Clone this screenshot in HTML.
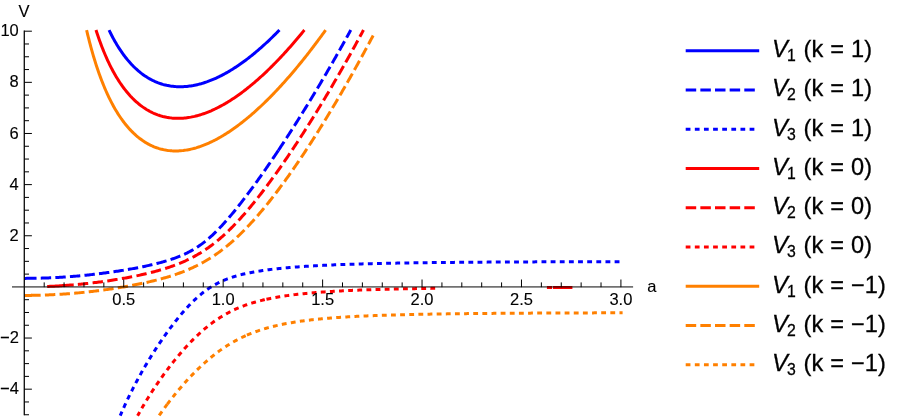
<!DOCTYPE html>
<html><head><meta charset="utf-8"><title>V(a)</title>
<style>
html,body{margin:0;padding:0;background:#fff;}
svg{display:block;}
text{font-family:"Liberation Sans",sans-serif;fill:#000;}
.t{font-size:16.5px;stroke:#000;stroke-width:0.12px;}
.l{font-size:23.6px;letter-spacing:0.15px;stroke:#000;stroke-width:0.28px;}
.s{font-size:15.8px;letter-spacing:0;}
.i{font-style:italic;font-size:23.8px;letter-spacing:0;}
</style></head><body>
<svg width="900" height="418" viewBox="0 0 900 418">
<rect width="900" height="418" fill="#fff"/>
<g fill="none" stroke-width="3.00" stroke-linecap="butt" stroke-linejoin="round">
<path d="M109.03,30.05 L109.71,31.45 L110.35,32.75 L110.99,34.02 L111.62,35.26 L112.26,36.49 L112.90,37.68 L113.53,38.86 L114.17,40.02 L114.81,41.15 L115.44,42.26 L116.08,43.35 L116.72,44.43 L117.35,45.48 L117.99,46.51 L118.84,47.85 L119.69,49.17 L120.54,50.45 L121.39,51.69 L122.24,52.91 L123.08,54.10 L123.93,55.25 L124.78,56.38 L125.63,57.48 L126.48,58.55 L127.33,59.59 L128.18,60.61 L129.03,61.60 L129.88,62.56 L130.73,63.50 L131.58,64.42 L132.42,65.31 L133.27,66.18 L134.34,67.23 L135.40,68.24 L136.46,69.22 L137.52,70.17 L138.58,71.09 L139.64,71.97 L140.70,72.82 L141.76,73.64 L142.83,74.43 L143.89,75.19 L144.95,75.92 L146.01,76.62 L147.07,77.30 L148.13,77.94 L149.19,78.57 L150.26,79.16 L151.32,79.73 L152.59,80.38 L153.86,80.99 L155.14,81.57 L156.41,82.11 L157.68,82.62 L158.96,83.10 L160.23,83.55 L161.51,83.96 L162.78,84.35 L164.05,84.70 L165.33,85.02 L166.60,85.32 L167.87,85.58 L169.15,85.82 L170.42,86.03 L171.69,86.21 L172.97,86.36 L174.24,86.49 L175.52,86.60 L176.79,86.67 L178.06,86.72 L179.34,86.75 L180.61,86.75 L181.88,86.73 L183.16,86.68 L184.43,86.61 L185.70,86.52 L186.98,86.41 L188.25,86.27 L189.53,86.11 L190.80,85.93 L192.07,85.72 L193.35,85.50 L194.62,85.25 L195.89,84.98 L197.17,84.69 L198.44,84.38 L199.71,84.05 L200.99,83.71 L202.26,83.34 L203.54,82.95 L204.81,82.54 L206.08,82.11 L207.36,81.67 L208.63,81.20 L209.90,80.72 L211.18,80.21 L212.45,79.69 L213.72,79.16 L215.00,78.60 L216.27,78.02 L217.54,77.43 L218.82,76.82 L220.09,76.20 L221.37,75.55 L222.64,74.89 L223.70,74.33 L224.76,73.76 L225.82,73.17 L226.88,72.57 L227.95,71.96 L229.01,71.34 L230.07,70.71 L231.13,70.07 L232.19,69.41 L233.25,68.75 L234.31,68.07 L235.38,67.38 L236.44,66.69 L237.50,65.98 L238.56,65.26 L239.62,64.53 L240.68,63.79 L241.74,63.04 L242.80,62.28 L243.87,61.51 L244.93,60.73 L245.99,59.93 L247.05,59.13 L248.11,58.32 L249.17,57.50 L250.23,56.67 L251.30,55.82 L252.36,54.97 L253.42,54.11 L254.48,53.24 L255.54,52.36 L256.60,51.47 L257.66,50.57 L258.73,49.66 L259.79,48.74 L260.85,47.81 L261.91,46.87 L262.97,45.92 L264.03,44.96 L265.09,44.00 L266.15,43.02 L267.22,42.04 L268.28,41.04 L269.34,40.04 L270.40,39.03 L271.46,38.01 L272.52,36.97 L273.58,35.94 L274.65,34.89 L275.71,33.83 L276.56,32.98 L277.40,32.12 L278.25,31.26 L279.10,30.39 L279.43,30.05" stroke="#0000ff"/>
<path d="M24.30,278.38 L25.60,278.38 L26.86,278.37 L28.11,278.36 L29.37,278.35 L30.63,278.34 L31.89,278.33 L33.14,278.31 L34.40,278.29 L35.66,278.27 L36.54,278.25" stroke="#0000ff"/>
<path d="M40.75,278.15 L42.20,278.11 L43.46,278.07 L44.72,278.02 L45.97,277.98 L47.23,277.93 L48.49,277.88 L49.75,277.83 L51.00,277.77 L52.26,277.72 L53.52,277.66 L54.78,277.59 L56.03,277.53 L57.29,277.46 L58.55,277.39 L59.81,277.31 L61.07,277.24 L62.32,277.16 L63.58,277.08 L64.84,276.99 L66.10,276.91 L67.35,276.82 L68.61,276.72 L69.87,276.63 L71.13,276.53 L72.38,276.43 L73.64,276.33 L74.90,276.23 L76.16,276.12 L77.42,276.01 L78.67,275.90 L79.93,275.78 L81.19,275.66 L82.45,275.54 L83.70,275.42 L84.96,275.30 L86.22,275.17 L87.48,275.04 L88.73,274.90 L89.99,274.77 L91.25,274.63 L92.51,274.49 L93.77,274.35 L95.02,274.20 L96.28,274.06 L97.54,273.90 L98.80,273.75 L100.05,273.60 L101.31,273.44 L102.57,273.28 L103.83,273.11 L105.09,272.95 L106.34,272.78 L107.60,272.61 L108.86,272.44 L110.12,272.26 L111.37,272.08 L112.63,271.90 L113.89,271.72 L115.15,271.53 L116.40,271.34 L117.66,271.15 L118.92,270.96 L120.18,270.76 L121.44,270.56 L122.69,270.36 L123.95,270.15 L125.21,269.94 L126.47,269.73 L127.72,269.52 L128.98,269.30 L130.24,269.08 L131.50,268.86 L132.75,268.63 L134.01,268.40 L135.27,268.17 L136.53,267.93 L137.79,267.69 L139.04,267.45 L140.30,267.20 L141.56,266.95 L142.82,266.69 L144.07,266.43 L145.33,266.17 L146.59,265.90 L147.85,265.62 L149.10,265.34 L150.36,265.06 L151.62,264.77 L152.88,264.48 L154.14,264.18 L155.39,263.87 L156.65,263.56 L157.91,263.24 L159.17,262.92 L160.42,262.58 L161.68,262.24 L162.94,261.90 L164.20,261.54 L165.45,261.17 L166.71,260.80 L167.97,260.42 L169.23,260.02 L170.49,259.62 L171.74,259.20 L173.00,258.77 L174.26,258.33 L175.52,257.88 L176.77,257.41 L178.03,256.92 L179.29,256.43 L180.55,255.91 L181.80,255.38 L183.06,254.83 L184.32,254.26 L185.58,253.67 L186.84,253.07 L188.09,252.44 L189.35,251.78 L190.61,251.11 L191.87,250.41 L193.12,249.69 L194.38,248.94 L195.64,248.16 L196.90,247.36 L197.90,246.70 L198.91,246.02 L199.92,245.32 L200.92,244.61 L201.93,243.88 L202.93,243.12 L203.94,242.35 L204.95,241.56 L205.95,240.75 L206.96,239.93 L207.96,239.08 L208.97,238.22 L209.98,237.34 L210.98,236.44 L211.99,235.52 L213.00,234.58 L214.00,233.63 L215.01,232.66 L216.01,231.67 L217.02,230.67 L218.03,229.65 L219.03,228.61 L220.04,227.56 L221.04,226.50 L222.05,225.41 L223.06,224.32 L224.06,223.21 L225.07,222.09 L226.08,220.96 L227.08,219.81 L228.09,218.65 L229.09,217.48 L230.10,216.29 L231.11,215.10 L232.11,213.90 L233.12,212.68 L234.12,211.45 L235.13,210.22 L235.89,209.28 L236.64,208.35 L237.39,207.40 L238.15,206.45 L238.90,205.50 L239.66,204.54 L240.41,203.58 L241.17,202.61 L241.92,201.64 L242.68,200.66 L243.43,199.68 L244.19,198.69 L244.94,197.70 L245.70,196.71 L246.45,195.71 L247.20,194.71 L247.96,193.70 L248.71,192.69 L249.47,191.67 L250.22,190.66 L250.98,189.63 L251.73,188.61 L252.49,187.58 L253.24,186.55 L254.00,185.51 L254.75,184.47 L255.51,183.43 L256.26,182.38 L257.01,181.33 L257.77,180.28 L258.52,179.22 L259.28,178.16 L260.03,177.10 L260.79,176.04 L261.54,174.97 L262.30,173.89 L263.05,172.82 L263.81,171.74 L264.56,170.66 L265.32,169.58 L266.07,168.49 L266.82,167.40 L267.58,166.31 L268.33,165.21 L269.09,164.11 L269.84,163.01 L270.60,161.91 L271.35,160.80 L272.11,159.69 L272.86,158.58 L273.62,157.46 L274.37,156.35 L275.13,155.23 L275.88,154.10 L276.63,152.98 L277.39,151.85 L278.14,150.72 L278.36,150.40" stroke="#0000ff" stroke-dasharray="10.4 4.208"/>
<path d="M278.36,150.40 L279.15,149.21 L279.90,148.07 L280.66,146.93 L281.41,145.79 L282.17,144.64 L282.92,143.49 L283.68,142.34 L284.43,141.19 L285.19,140.03 L285.94,138.88 L286.70,137.72 L287.45,136.55 L288.21,135.39 L288.96,134.22 L289.71,133.05 L290.47,131.87 L291.22,130.70 L291.98,129.52 L292.73,128.34 L293.49,127.16 L294.24,125.97 L295.00,124.78 L295.75,123.59 L296.51,122.40 L297.26,121.20 L298.02,120.00 L298.77,118.80 L299.52,117.60 L300.28,116.39 L301.03,115.18 L301.79,113.97 L302.54,112.76 L303.30,111.54 L304.05,110.33 L304.81,109.11 L305.56,107.88 L306.32,106.66 L307.07,105.43 L307.83,104.20 L308.58,102.96 L309.33,101.73 L310.09,100.49 L310.84,99.25 L311.60,98.01 L312.35,96.76 L313.11,95.51 L313.86,94.26 L314.62,93.01 L315.37,91.76 L316.13,90.50 L316.88,89.24 L317.64,87.97 L318.39,86.71 L319.15,85.44 L319.90,84.17 L320.65,82.90 L321.41,81.62 L322.16,80.35 L322.92,79.07 L323.67,77.78 L324.43,76.50 L325.18,75.21 L325.94,73.92 L326.69,72.63 L327.45,71.33 L328.20,70.03 L328.96,68.73 L329.71,67.43 L330.46,66.13 L331.22,64.82 L331.97,63.51 L332.73,62.20 L333.48,60.88 L334.24,59.56 L334.99,58.24 L335.75,56.92 L336.50,55.60 L337.26,54.27 L338.01,52.94 L338.77,51.61 L339.52,50.27 L340.27,48.93 L341.03,47.59 L341.78,46.25 L342.54,44.91 L343.29,43.56 L344.05,42.21 L344.80,40.86 L345.56,39.50 L346.31,38.14 L347.07,36.78 L347.82,35.42 L348.58,34.05 L349.33,32.69 L350.08,31.32 L350.78,30.05" stroke="#0000ff" stroke-dasharray="10.4 4.25"/>
<path d="M120.21,415.70 L120.78,414.37 L121.32,413.13 L121.86,411.90 L122.40,410.67 L122.94,409.46 L123.47,408.26 L124.01,407.06 L124.55,405.88 L125.09,404.70 L125.63,403.53 L126.17,402.38 L126.71,401.23 L127.25,400.09 L127.78,398.95 L128.32,397.83 L128.86,396.71 L129.40,395.60 L129.94,394.50 L130.48,393.41 L131.02,392.32 L131.56,391.24 L132.28,389.82 L132.99,388.40 L133.71,387.00 L134.43,385.61 L135.15,384.24 L135.87,382.87 L136.59,381.52 L137.30,380.18 L138.02,378.84 L138.74,377.52 L139.46,376.21 L140.18,374.91 L140.90,373.62 L141.61,372.35 L142.33,371.08 L143.05,369.82 L143.77,368.57 L144.49,367.33 L145.21,366.09 L145.93,364.87 L146.64,363.66 L147.36,362.45 L148.08,361.26 L148.80,360.07 L149.52,358.89 L150.24,357.72 L150.95,356.56 L151.67,355.40 L152.39,354.26 L153.11,353.12 L153.83,351.99 L154.55,350.86 L155.26,349.75 L155.98,348.64 L156.70,347.54 L157.42,346.44 L158.14,345.36 L158.86,344.28 L159.58,343.21 L160.29,342.14 L161.01,341.09 L161.73,340.04 L162.45,338.99 L163.17,337.96 L163.89,336.93 L164.60,335.91 L165.32,334.89 L166.04,333.88 L166.76,332.88 L167.48,331.89 L168.20,330.90 L168.91,329.92 L169.63,328.95 L170.35,327.98 L171.25,326.79 L172.15,325.60 L173.05,324.42 L173.94,323.26 L174.84,322.11 L175.74,320.96 L176.64,319.83 L177.54,318.72 L178.43,317.61 L179.33,316.52 L180.23,315.43 L181.13,314.36 L182.03,313.31 L182.92,312.26 L183.82,311.23 L184.72,310.21 L185.62,309.21 L186.52,308.21 L187.41,307.23 L188.31,306.27 L189.21,305.32 L190.11,304.38 L191.01,303.46 L191.90,302.56 L192.80,301.66 L193.70,300.79 L194.60,299.93 L195.50,299.08 L196.39,298.25 L197.29,297.43 L198.19,296.64 L199.27,295.70 L200.35,294.79 L201.42,293.89 L202.50,293.03 L203.58,292.18 L204.66,291.36 L205.73,290.56 L206.81,289.79 L207.89,289.04 L208.97,288.31 L210.04,287.60 L211.12,286.92 L212.20,286.25 L213.28,285.61 L214.36,284.99 L215.43,284.39 L216.51,283.81 L217.59,283.25 L218.67,282.70 L219.92,282.09 L221.18,281.50 L222.44,280.94 L223.69,280.40 L224.95,279.87 L226.21,279.37 L227.47,278.89 L228.72,278.43 L229.98,277.98 L231.24,277.55 L232.50,277.14 L233.75,276.74 L235.01,276.36 L236.27,275.99 L237.52,275.63 L238.78,275.29 L240.04,274.96 L241.30,274.64 L242.55,274.33 L243.81,274.03 L245.07,273.74 L246.33,273.47 L247.58,273.20 L248.84,272.94 L250.10,272.68 L251.35,272.44 L252.61,272.20 L253.87,271.97 L255.13,271.75 L256.38,271.53 L257.64,271.32 L258.90,271.12 L260.15,270.92 L261.41,270.73 L262.67,270.55 L263.93,270.36 L265.18,270.19 L266.44,270.02 L267.70,269.85 L268.96,269.69 L270.21,269.53 L271.47,269.37 L272.73,269.22 L273.98,269.08 L275.24,268.93 L276.50,268.80 L277.76,268.66 L279.01,268.53 L280.27,268.40 L281.53,268.27 L282.79,268.15 L284.04,268.03 L285.30,267.91 L286.56,267.80 L287.81,267.69 L289.07,267.58 L290.33,267.47 L291.59,267.36 L292.84,267.26 L294.10,267.16 L295.36,267.06 L296.61,266.97 L297.87,266.88 L299.13,266.78 L300.39,266.69 L301.64,266.61 L302.90,266.52 L304.16,266.44 L305.42,266.35 L306.67,266.27 L307.93,266.19 L309.19,266.12 L310.44,266.04 L311.70,265.97 L312.96,265.89 L314.22,265.82 L315.47,265.75 L316.73,265.68 L317.99,265.62 L319.25,265.55 L320.50,265.49 L321.76,265.42 L323.02,265.36 L324.27,265.30 L325.53,265.24 L326.79,265.18 L328.05,265.12 L329.30,265.07 L330.56,265.01 L331.82,264.96 L333.07,264.90 L334.33,264.85 L335.59,264.80 L336.85,264.75 L338.10,264.70 L339.36,264.65 L340.62,264.60 L341.88,264.56 L343.13,264.51 L344.39,264.47 L345.65,264.42 L346.90,264.38 L348.16,264.33 L349.42,264.29 L350.68,264.25 L351.93,264.21 L353.19,264.17 L354.45,264.13 L355.71,264.09 L356.96,264.05 L358.22,264.02 L359.48,263.98 L360.73,263.94 L361.99,263.91 L363.25,263.87 L364.51,263.84 L365.76,263.80 L367.02,263.77 L368.28,263.74 L369.54,263.71 L370.79,263.68 L372.05,263.64 L373.31,263.61 L374.56,263.58 L375.82,263.55 L377.08,263.52 L378.34,263.50 L379.59,263.47 L380.85,263.44 L382.11,263.41 L383.36,263.39 L384.62,263.36 L385.88,263.33 L387.14,263.31 L388.39,263.28 L389.65,263.26 L390.91,263.23 L392.17,263.21 L393.42,263.19 L394.68,263.16 L395.94,263.14 L397.19,263.12 L398.45,263.10 L399.71,263.07 L400.97,263.05 L402.22,263.03 L403.48,263.01 L404.74,262.99 L406.00,262.97 L407.25,262.95 L408.51,262.93 L409.77,262.91 L411.02,262.89 L412.28,262.87 L413.54,262.85 L414.80,262.84 L416.05,262.82 L417.31,262.80 L418.57,262.78 L419.82,262.76 L421.08,262.75 L422.34,262.73 L423.60,262.71 L424.85,262.70 L426.11,262.68 L427.37,262.67 L428.63,262.65 L429.88,262.64 L431.14,262.62 L432.40,262.61 L433.65,262.59 L434.91,262.58 L436.17,262.56 L437.43,262.55 L438.68,262.53 L439.94,262.52 L441.20,262.51 L442.46,262.49 L443.71,262.48 L444.97,262.47 L446.23,262.46 L447.48,262.44 L448.74,262.43 L450.00,262.42 L451.26,262.41 L452.51,262.39 L453.77,262.38 L455.03,262.37 L456.28,262.36 L457.54,262.35 L458.80,262.34 L460.06,262.33 L461.31,262.32 L462.57,262.30 L463.83,262.29 L465.09,262.28 L466.34,262.27 L467.60,262.26 L468.86,262.25 L470.11,262.24 L471.37,262.23 L472.63,262.22 L473.89,262.22 L475.14,262.21 L476.40,262.20 L477.66,262.19 L478.92,262.18 L480.17,262.17 L481.43,262.16 L482.69,262.15 L483.94,262.14 L485.20,262.14 L486.46,262.13 L487.72,262.12 L488.97,262.11 L490.23,262.10 L491.49,262.09 L492.75,262.09 L494.00,262.08 L495.26,262.07 L496.52,262.06 L497.77,262.06 L499.03,262.05 L500.29,262.04 L501.55,262.04 L502.80,262.03 L504.06,262.02 L505.32,262.01 L506.57,262.01 L507.83,262.00 L509.09,261.99 L510.35,261.99 L511.60,261.98 L512.86,261.97 L514.12,261.97 L515.38,261.96 L516.63,261.96 L517.89,261.95 L519.15,261.94 L520.40,261.94 L521.66,261.93 L522.92,261.93 L524.18,261.92 L525.43,261.91 L526.69,261.91 L527.95,261.90 L529.21,261.90 L530.46,261.89 L531.72,261.89 L532.98,261.88 L534.23,261.88 L535.49,261.87 L536.75,261.87 L538.01,261.86 L539.26,261.86 L540.52,261.85 L541.78,261.85 L543.03,261.84 L544.29,261.84 L545.55,261.83 L546.81,261.83 L548.06,261.82 L549.32,261.82 L550.58,261.81 L551.84,261.81 L553.09,261.81 L554.35,261.80 L555.61,261.80 L556.86,261.79 L558.12,261.79 L559.38,261.78 L560.64,261.78 L561.89,261.78 L563.15,261.77 L564.41,261.77 L565.67,261.76 L566.92,261.76 L568.18,261.76 L569.44,261.75 L570.69,261.75 L571.95,261.75 L573.21,261.74 L574.47,261.74 L575.72,261.73 L576.98,261.73 L578.24,261.73 L579.49,261.72 L580.75,261.72 L582.01,261.72 L583.27,261.71 L584.52,261.71 L585.78,261.71 L587.04,261.70 L588.30,261.70 L589.55,261.70 L590.81,261.69 L592.07,261.69 L593.32,261.69 L594.58,261.69 L595.84,261.68 L597.10,261.68 L598.35,261.68 L599.61,261.67 L600.87,261.67 L602.13,261.67 L603.38,261.66 L604.64,261.66 L605.90,261.66 L607.15,261.66 L608.41,261.65 L609.67,261.65 L610.93,261.65 L612.18,261.65 L613.44,261.64 L614.70,261.64 L615.95,261.64 L617.21,261.64 L618.47,261.63 L619.73,261.63 L620.98,261.63 L622.24,261.63 L622.60,261.62" stroke="#0000ff" stroke-dasharray="4.85 4.29" stroke-dashoffset="0.491"/>
<path d="M96.00,30.05 L96.55,31.75 L96.98,33.04 L97.40,34.31 L97.82,35.57 L98.25,36.81 L98.67,38.03 L99.10,39.23 L99.52,40.42 L99.95,41.59 L100.37,42.75 L100.80,43.89 L101.22,45.02 L101.86,46.68 L102.49,48.31 L103.13,49.91 L103.77,51.48 L104.41,53.02 L105.04,54.53 L105.68,56.01 L106.32,57.46 L106.95,58.88 L107.59,60.27 L108.23,61.64 L108.86,62.98 L109.50,64.30 L110.14,65.59 L110.77,66.86 L111.41,68.10 L112.05,69.32 L112.68,70.52 L113.32,71.69 L113.96,72.84 L114.59,73.97 L115.23,75.08 L115.87,76.17 L116.50,77.24 L117.14,78.28 L117.78,79.31 L118.63,80.65 L119.48,81.95 L120.33,83.22 L121.17,84.46 L122.02,85.67 L122.87,86.85 L123.72,88.00 L124.57,89.11 L125.42,90.20 L126.27,91.26 L127.12,92.29 L127.97,93.30 L128.82,94.28 L129.67,95.23 L130.51,96.16 L131.36,97.06 L132.21,97.94 L133.06,98.80 L134.12,99.83 L135.18,100.83 L136.25,101.80 L137.31,102.73 L138.37,103.62 L139.43,104.49 L140.49,105.32 L141.55,106.12 L142.61,106.89 L143.68,107.63 L144.74,108.34 L145.80,109.02 L146.86,109.68 L147.92,110.30 L148.98,110.90 L150.04,111.47 L151.32,112.12 L152.59,112.74 L153.86,113.32 L155.14,113.86 L156.41,114.37 L157.68,114.85 L158.96,115.29 L160.23,115.70 L161.51,116.08 L162.78,116.43 L164.05,116.74 L165.33,117.03 L166.60,117.29 L167.87,117.51 L169.15,117.71 L170.42,117.88 L171.69,118.03 L172.97,118.14 L174.24,118.23 L175.52,118.29 L176.79,118.33 L178.06,118.34 L179.34,118.33 L180.61,118.29 L181.88,118.23 L183.16,118.14 L184.43,118.03 L185.70,117.90 L186.98,117.74 L188.25,117.56 L189.53,117.36 L190.80,117.14 L192.07,116.89 L193.35,116.62 L194.62,116.34 L195.89,116.03 L197.17,115.70 L198.44,115.35 L199.71,114.97 L200.99,114.58 L202.26,114.17 L203.54,113.74 L204.81,113.29 L206.08,112.82 L207.36,112.33 L208.63,111.83 L209.90,111.30 L211.18,110.76 L212.45,110.19 L213.72,109.61 L215.00,109.01 L216.27,108.40 L217.54,107.76 L218.82,107.11 L220.09,106.45 L221.15,105.88 L222.21,105.30 L223.28,104.70 L224.34,104.10 L225.40,103.48 L226.46,102.85 L227.52,102.22 L228.58,101.57 L229.64,100.91 L230.71,100.23 L231.77,99.55 L232.83,98.86 L233.89,98.15 L234.95,97.44 L236.01,96.71 L237.07,95.97 L238.14,95.23 L239.20,94.47 L240.26,93.70 L241.32,92.92 L242.38,92.13 L243.44,91.34 L244.50,90.53 L245.56,89.71 L246.63,88.88 L247.69,88.04 L248.75,87.19 L249.81,86.33 L250.87,85.46 L251.93,84.59 L252.99,83.70 L254.06,82.80 L255.12,81.89 L256.18,80.98 L257.24,80.05 L258.30,79.11 L259.36,78.17 L260.42,77.22 L261.48,76.25 L262.55,75.28 L263.61,74.30 L264.67,73.31 L265.73,72.31 L266.79,71.30 L267.85,70.28 L268.91,69.25 L269.98,68.22 L271.04,67.17 L272.10,66.12 L272.95,65.27 L273.80,64.41 L274.65,63.55 L275.49,62.69 L276.34,61.82 L277.19,60.94 L278.04,60.06 L278.89,59.17 L279.74,58.28 L280.59,57.38 L281.44,56.47 L282.29,55.56 L283.14,54.65 L283.99,53.73 L284.83,52.80 L285.68,51.87 L286.53,50.93 L287.38,49.99 L288.23,49.05 L289.08,48.09 L289.93,47.14 L290.78,46.17 L291.63,45.20 L292.48,44.23 L293.33,43.25 L294.17,42.27 L295.02,41.28 L295.87,40.29 L296.72,39.29 L297.57,38.28 L298.42,37.27 L299.27,36.26 L300.12,35.24 L300.97,34.22 L301.82,33.19 L302.66,32.15 L303.51,31.11 L304.36,30.07 L304.38,30.05" stroke="#ff0000"/>
<path d="M47.17,286.45 L48.59,286.39 L50.01,286.33 L51.43,286.27 L52.85,286.20 L54.27,286.13 L55.70,286.05 L57.12,285.97 L58.54,285.89 L59.96,285.80 L61.38,285.71 L62.80,285.62 L64.22,285.53 L65.64,285.43 L67.06,285.32 L68.48,285.22 L69.90,285.11 L71.32,284.99 L72.75,284.88 L73.70,284.80" stroke="#ff0000"/>
<path d="M77.85,284.43 L79.14,284.31 L80.56,284.17 L81.98,284.03 L83.40,283.89 L84.82,283.74 L86.24,283.59 L87.67,283.44 L89.09,283.28 L90.51,283.12 L91.93,282.95 L93.35,282.79 L94.77,282.61 L96.19,282.44 L97.61,282.26 L99.03,282.08 L100.45,281.89 L101.87,281.70 L103.29,281.51 L104.72,281.31 L106.14,281.11 L107.56,280.91 L108.98,280.70 L110.40,280.48 L111.82,280.27 L113.24,280.05 L114.66,279.82 L116.08,279.60 L117.50,279.36 L118.69,279.17 L119.87,278.97 L121.06,278.77 L122.24,278.56 L123.42,278.35 L124.61,278.14 L125.79,277.93 L126.98,277.71 L128.16,277.49 L129.34,277.27 L130.53,277.04 L131.71,276.81 L132.90,276.57 L134.08,276.34 L135.26,276.10 L136.45,275.85 L137.63,275.60 L138.82,275.35 L140.00,275.09 L141.18,274.84 L142.37,274.57 L143.55,274.30 L144.74,274.03 L145.92,273.75 L147.11,273.47 L148.29,273.19 L149.47,272.90 L150.66,272.60 L151.84,272.30 L153.03,271.99 L154.21,271.68 L155.39,271.37 L156.58,271.04 L157.76,270.72 L158.95,270.38 L160.13,270.04 L161.31,269.69 L162.50,269.34 L163.68,268.98 L164.87,268.61 L166.05,268.24 L167.23,267.86 L168.42,267.47 L169.60,267.07 L170.79,266.66 L171.97,266.25 L173.15,265.82 L174.34,265.39 L175.52,264.95 L176.71,264.50 L177.89,264.04 L179.07,263.56 L180.26,263.08 L181.44,262.59 L182.63,262.08 L183.81,261.56 L185.00,261.04 L186.18,260.49 L187.36,259.94 L188.55,259.37 L189.73,258.79 L190.92,258.20 L192.10,257.59 L193.28,256.97 L194.47,256.33 L195.65,255.68 L196.84,255.02 L198.02,254.33 L199.20,253.63 L200.39,252.92 L201.57,252.19 L202.76,251.44 L203.94,250.68 L205.12,249.89 L206.31,249.10 L207.49,248.28 L208.68,247.44 L209.86,246.59 L211.04,245.72 L212.23,244.83 L213.41,243.93 L214.36,243.19 L215.31,242.44 L216.25,241.68 L217.20,240.90 L218.15,240.12 L219.10,239.32 L220.04,238.51 L220.99,237.69 L221.94,236.86 L222.89,236.02 L223.83,235.16 L224.78,234.29 L225.73,233.42 L226.67,232.53 L227.62,231.63 L228.57,230.72 L229.52,229.79 L230.46,228.86 L231.41,227.92 L232.36,226.96 L233.31,226.00 L234.25,225.02 L235.20,224.04 L236.15,223.04 L237.09,222.03 L238.04,221.02 L238.99,219.99 L239.94,218.96 L240.88,217.91 L241.83,216.86 L242.78,215.79 L243.72,214.72 L244.67,213.64 L245.62,212.55 L246.57,211.44 L247.51,210.34 L248.46,209.22 L249.41,208.09 L250.36,206.96 L251.30,205.82 L252.25,204.66 L253.20,203.51 L254.14,202.34 L255.09,201.16 L256.04,199.98 L256.99,198.79 L257.93,197.60 L258.88,196.39 L259.83,195.18 L260.78,193.96 L261.72,192.73 L262.67,191.50 L263.62,190.26 L264.56,189.02 L265.51,187.76 L266.46,186.50 L267.41,185.24 L268.35,183.96 L269.30,182.68 L270.25,181.40 L270.96,180.43 L271.67,179.46 L272.38,178.48 L273.09,177.50 L273.80,176.52 L274.51,175.54 L275.22,174.55 L275.93,173.55 L276.64,172.56 L277.35,171.56 L278.06,170.56 L278.77,169.55 L279.48,168.54 L280.19,167.53 L280.90,166.52 L281.62,165.50 L282.33,164.48 L283.04,163.45 L283.75,162.43 L284.03,162.02" stroke="#ff0000" stroke-dasharray="10.4 4.417"/>
<path d="M284.03,162.02 L284.93,160.71 L285.64,159.67 L286.35,158.63 L287.06,157.59 L287.77,156.55 L288.48,155.50 L289.19,154.45 L289.90,153.40 L290.61,152.34 L291.32,151.28 L292.03,150.22 L292.75,149.16 L293.46,148.09 L294.17,147.02 L294.88,145.94 L295.59,144.87 L296.30,143.79 L297.01,142.71 L297.72,141.62 L298.43,140.54 L299.14,139.45 L299.85,138.35 L300.56,137.26 L301.27,136.16 L301.98,135.06 L302.69,133.95 L303.40,132.85 L304.11,131.74 L304.82,130.63 L305.53,129.51 L306.24,128.40 L306.95,127.28 L307.66,126.15 L308.37,125.03 L309.09,123.90 L309.80,122.77 L310.51,121.64 L311.22,120.50 L311.93,119.36 L312.64,118.22 L313.35,117.08 L314.06,115.93 L314.77,114.78 L315.48,113.63 L316.19,112.48 L316.90,111.32 L317.61,110.16 L318.32,109.00 L319.03,107.84 L319.74,106.67 L320.45,105.50 L321.16,104.33 L321.87,103.16 L322.58,101.98 L323.29,100.80 L324.00,99.62 L324.72,98.44 L325.43,97.25 L326.14,96.06 L326.85,94.87 L327.56,93.67 L328.27,92.48 L328.98,91.28 L329.69,90.08 L330.40,88.87 L331.11,87.66 L331.82,86.45 L332.53,85.24 L333.24,84.03 L333.95,82.81 L334.66,81.59 L335.37,80.37 L336.08,79.15 L336.79,77.92 L337.50,76.69 L338.21,75.46 L338.92,74.23 L339.63,72.99 L340.34,71.75 L341.06,70.51 L341.77,69.27 L342.48,68.02 L343.19,66.77 L343.90,65.52 L344.61,64.27 L345.32,63.01 L346.03,61.75 L346.74,60.49 L347.45,59.23 L348.16,57.96 L348.87,56.69 L349.58,55.42 L350.29,54.15 L351.00,52.87 L351.71,51.60 L352.42,50.32 L353.13,49.03 L353.84,47.75 L354.55,46.46 L355.26,45.17 L355.97,43.88 L356.68,42.58 L357.40,41.28 L358.11,39.98 L358.82,38.68 L359.53,37.38 L360.24,36.07 L360.95,34.76 L361.66,33.45 L362.37,32.13 L363.08,30.82 L363.49,30.05" stroke="#ff0000" stroke-dasharray="10.4 4.25"/>
<path d="M137.61,415.70 L138.30,414.46 L138.88,413.41 L139.59,412.16 L140.29,410.92 L140.99,409.69 L141.69,408.47 L142.40,407.26 L143.10,406.06 L143.80,404.87 L144.51,403.69 L145.21,402.52 L145.91,401.36 L146.61,400.20 L147.32,399.06 L148.02,397.92 L148.72,396.79 L149.42,395.67 L150.13,394.56 L150.83,393.46 L151.53,392.36 L152.23,391.27 L152.94,390.19 L153.64,389.12 L154.34,388.06 L155.05,387.00 L155.75,385.95 L156.45,384.91 L157.15,383.87 L157.86,382.84 L158.56,381.82 L159.26,380.81 L159.96,379.80 L160.67,378.80 L161.37,377.81 L162.07,376.82 L162.77,375.84 L163.48,374.87 L164.30,373.74 L165.12,372.62 L165.94,371.51 L166.76,370.41 L167.58,369.32 L168.40,368.23 L169.22,367.16 L170.03,366.09 L170.85,365.04 L171.67,363.99 L172.49,362.95 L173.31,361.91 L174.13,360.89 L174.95,359.88 L175.77,358.87 L176.59,357.87 L177.41,356.88 L178.23,355.90 L179.05,354.93 L179.87,353.96 L180.69,353.00 L181.51,352.06 L182.33,351.12 L183.15,350.19 L183.97,349.26 L184.79,348.35 L185.61,347.45 L186.43,346.55 L187.25,345.66 L188.07,344.78 L189.01,343.79 L189.94,342.80 L190.88,341.83 L191.82,340.87 L192.75,339.92 L193.69,338.99 L194.63,338.06 L195.56,337.15 L196.50,336.25 L197.44,335.36 L198.37,334.48 L199.31,333.61 L200.25,332.76 L201.19,331.92 L202.12,331.09 L203.06,330.27 L204.00,329.46 L204.93,328.67 L205.87,327.89 L206.81,327.12 L207.74,326.36 L208.80,325.52 L209.85,324.70 L210.91,323.90 L211.96,323.10 L213.01,322.33 L214.07,321.57 L215.12,320.82 L216.18,320.09 L217.23,319.38 L218.28,318.68 L219.34,317.99 L220.39,317.32 L221.44,316.66 L222.50,316.02 L223.55,315.39 L224.61,314.78 L225.66,314.18 L226.71,313.59 L227.89,312.95 L229.06,312.33 L230.23,311.73 L231.40,311.14 L232.57,310.57 L233.74,310.01 L234.91,309.47 L236.08,308.94 L237.25,308.43 L238.43,307.93 L239.60,307.44 L240.77,306.97 L241.94,306.51 L243.11,306.06 L244.28,305.62 L245.45,305.20 L246.62,304.79 L247.79,304.39 L248.97,304.00 L250.14,303.62 L251.31,303.25 L252.48,302.89 L253.65,302.54 L254.82,302.20 L255.99,301.87 L257.16,301.55 L258.33,301.23 L259.50,300.93 L260.68,300.63 L261.85,300.34 L263.02,300.06 L264.19,299.79 L265.30,299.53" stroke="#ff0000" stroke-dasharray="4.85 4.29" stroke-dashoffset="0.692"/>
<path d="M265.30,299.53 L266.53,299.26 L267.82,298.98 L269.11,298.71 L270.40,298.45 L271.68,298.20 L272.97,297.95 L274.26,297.71 L275.55,297.47 L276.84,297.25 L278.12,297.02 L279.41,296.81 L280.70,296.60 L281.99,296.40 L283.28,296.20 L284.57,296.00 L285.85,295.82 L287.14,295.63 L288.43,295.46 L289.72,295.28 L291.01,295.11 L292.29,294.95 L293.58,294.79 L294.87,294.63 L296.16,294.48 L297.45,294.33 L298.74,294.19 L300.02,294.05 L301.31,293.91 L302.60,293.77 L303.89,293.64 L305.18,293.52 L306.46,293.39 L307.75,293.27 L309.04,293.15 L310.33,293.03 L311.62,292.92 L312.91,292.81 L314.19,292.70 L315.48,292.60 L316.77,292.49 L318.06,292.39 L319.35,292.30 L320.63,292.20 L321.92,292.11 L323.21,292.01 L324.50,291.92 L325.79,291.84 L327.08,291.75 L328.36,291.67 L329.65,291.58 L330.94,291.50 L332.23,291.43 L333.52,291.35 L334.80,291.27 L336.09,291.20 L337.38,291.13 L338.67,291.06 L339.96,290.99 L341.25,290.92 L342.53,290.86 L343.82,290.79 L345.11,290.73 L346.40,290.67 L347.69,290.61 L348.97,290.55 L350.26,290.49 L351.55,290.43 L352.84,290.37 L354.13,290.32 L355.42,290.27 L356.70,290.21 L357.99,290.16 L359.28,290.11 L360.57,290.06 L361.86,290.01 L363.14,289.96 L364.43,289.92 L365.72,289.87 L367.01,289.83 L368.30,289.78 L369.59,289.74 L370.87,289.70 L372.16,289.65 L373.45,289.61 L374.74,289.57 L376.03,289.53 L377.31,289.50 L378.60,289.46 L379.89,289.42 L381.18,289.38 L382.47,289.35 L383.76,289.31 L385.04,289.28 L386.33,289.24 L387.62,289.21 L388.91,289.18 L390.20,289.15 L391.48,289.11 L392.77,289.08 L394.06,289.05 L395.35,289.02 L396.64,288.99 L397.93,288.96 L399.21,288.94 L400.50,288.91 L401.79,288.88 L403.08,288.85 L404.37,288.83 L405.65,288.80 L406.94,288.77 L408.23,288.75 L409.52,288.72 L410.81,288.70 L412.10,288.68 L413.38,288.65 L414.67,288.63 L415.96,288.61 L417.25,288.58 L418.54,288.56 L419.82,288.54 L421.11,288.52 L422.40,288.50 L423.69,288.48 L424.98,288.46 L426.27,288.44 L427.55,288.42 L428.84,288.40 L430.13,288.38 L431.42,288.36 L432.71,288.34 L433.99,288.32 L435.17,288.31" stroke="#ff0000" stroke-dasharray="4.85 4.29" stroke-dashoffset="7.956"/>
<path d="M86.59,30.05 L87.00,31.77 L87.42,33.55 L87.85,35.29 L88.27,37.01 L88.70,38.71 L89.12,40.38 L89.55,42.03 L89.97,43.65 L90.40,45.25 L90.82,46.82 L91.24,48.38 L91.67,49.91 L92.09,51.42 L92.52,52.91 L92.94,54.38 L93.37,55.83 L93.79,57.25 L94.22,58.66 L94.64,60.05 L95.07,61.42 L95.49,62.77 L95.91,64.10 L96.34,65.42 L96.76,66.71 L97.19,67.99 L97.61,69.25 L98.04,70.50 L98.46,71.72 L98.89,72.93 L99.31,74.13 L99.74,75.31 L100.16,76.47 L100.58,77.62 L101.01,78.75 L101.65,80.42 L102.28,82.06 L102.92,83.66 L103.56,85.24 L104.19,86.78 L104.83,88.29 L105.47,89.78 L106.10,91.23 L106.74,92.66 L107.38,94.06 L108.01,95.43 L108.65,96.78 L109.29,98.09 L109.92,99.39 L110.56,100.66 L111.20,101.90 L111.83,103.12 L112.47,104.32 L113.11,105.50 L113.75,106.65 L114.38,107.78 L115.02,108.89 L115.66,109.97 L116.29,111.04 L116.93,112.09 L117.57,113.11 L118.41,114.45 L119.26,115.75 L120.11,117.02 L120.96,118.25 L121.81,119.46 L122.66,120.63 L123.51,121.77 L124.36,122.88 L125.21,123.97 L126.06,125.02 L126.91,126.05 L127.75,127.04 L128.60,128.01 L129.45,128.96 L130.30,129.88 L131.15,130.77 L132.00,131.64 L133.06,132.69 L134.12,133.71 L135.18,134.68 L136.25,135.63 L137.31,136.53 L138.37,137.41 L139.43,138.25 L140.49,139.05 L141.55,139.83 L142.61,140.58 L143.68,141.29 L144.74,141.97 L145.80,142.63 L146.86,143.25 L147.92,143.85 L148.98,144.42 L150.26,145.07 L151.53,145.68 L152.80,146.25 L154.08,146.79 L155.35,147.29 L156.62,147.76 L157.90,148.19 L159.17,148.59 L160.44,148.95 L161.72,149.28 L162.99,149.58 L164.27,149.85 L165.54,150.09 L166.81,150.30 L168.09,150.48 L169.36,150.62 L170.63,150.75 L171.91,150.84 L173.18,150.90 L174.45,150.94 L175.73,150.95 L177.00,150.94 L178.27,150.90 L179.55,150.83 L180.82,150.74 L182.10,150.63 L183.37,150.49 L184.64,150.32 L185.92,150.13 L187.19,149.92 L188.46,149.69 L189.74,149.43 L191.01,149.15 L192.28,148.85 L193.56,148.53 L194.83,148.18 L196.11,147.82 L197.38,147.43 L198.65,147.03 L199.93,146.60 L201.20,146.15 L202.47,145.69 L203.75,145.20 L205.02,144.69 L206.29,144.17 L207.57,143.62 L208.84,143.06 L210.12,142.48 L211.39,141.88 L212.66,141.26 L213.94,140.63 L215.21,139.97 L216.48,139.30 L217.54,138.73 L218.61,138.15 L219.67,137.55 L220.73,136.94 L221.79,136.32 L222.85,135.69 L223.91,135.05 L224.97,134.40 L226.04,133.73 L227.10,133.05 L228.16,132.37 L229.22,131.67 L230.28,130.96 L231.34,130.24 L232.40,129.51 L233.47,128.77 L234.53,128.02 L235.59,127.26 L236.65,126.48 L237.71,125.70 L238.77,124.91 L239.83,124.10 L240.89,123.29 L241.96,122.47 L243.02,121.63 L244.08,120.79 L245.14,119.94 L246.20,119.07 L247.26,118.20 L248.32,117.32 L249.39,116.43 L250.45,115.52 L251.51,114.61 L252.57,113.69 L253.63,112.76 L254.69,111.82 L255.75,110.88 L256.81,109.92 L257.88,108.95 L258.94,107.98 L260.00,106.99 L261.06,106.00 L262.12,104.99 L263.18,103.98 L264.24,102.96 L265.31,101.93 L266.37,100.89 L267.43,99.85 L268.49,98.79 L269.34,97.94 L270.19,97.08 L271.04,96.22 L271.89,95.35 L272.73,94.48 L273.58,93.60 L274.43,92.72 L275.28,91.83 L276.13,90.94 L276.98,90.04 L277.83,89.13 L278.68,88.22 L279.53,87.31 L280.38,86.39 L281.23,85.46 L282.07,84.53 L282.92,83.59 L283.77,82.65 L284.62,81.70 L285.47,80.75 L286.32,79.79 L287.17,78.83 L288.02,77.86 L288.87,76.89 L289.72,75.91 L290.57,74.93 L291.41,73.94 L292.26,72.95 L293.11,71.95 L293.96,70.95 L294.81,69.94 L295.66,68.93 L296.51,67.91 L297.36,66.89 L298.21,65.86 L299.06,64.82 L299.91,63.79 L300.75,62.74 L301.60,61.70 L302.45,60.64 L303.30,59.59 L304.15,58.52 L305.00,57.46 L305.85,56.39 L306.70,55.31 L307.55,54.23 L308.40,53.14 L309.25,52.05 L310.09,50.95 L310.94,49.85 L311.79,48.75 L312.64,47.64 L313.49,46.52 L314.34,45.40 L315.19,44.28 L316.04,43.15 L316.89,42.01 L317.74,40.88 L318.59,39.73 L319.43,38.59 L320.28,37.43 L321.13,36.28 L321.98,35.11 L322.83,33.95 L323.68,32.78 L324.53,31.60 L325.38,30.42 L325.64,30.05" stroke="#ff8000"/>
<path d="M24.30,295.42 L25.60,295.42 L26.86,295.42 L28.11,295.41 L29.37,295.40 L30.63,295.39 L31.89,295.37 L32.00,295.37" stroke="#ff8000"/>
<path d="M24.30,295.42 L25.60,295.42 L26.86,295.42 L28.11,295.41 L29.37,295.40 L30.63,295.39 L31.89,295.37 L33.14,295.35 L34.40,295.33 L35.66,295.31 L36.92,295.28 L38.18,295.25 L39.43,295.22 L40.69,295.19 L41.95,295.15 L43.21,295.11 L44.46,295.07 L45.72,295.02 L46.98,294.97 L48.24,294.92 L49.49,294.87 L50.75,294.81 L52.01,294.75 L53.27,294.69 L54.53,294.62 L55.78,294.56 L57.04,294.48 L58.30,294.41 L59.56,294.34 L60.81,294.26 L62.07,294.18 L63.33,294.09 L64.59,294.00 L65.84,293.91 L67.10,293.82 L68.36,293.73 L69.62,293.63 L70.88,293.53 L72.13,293.43 L73.39,293.32 L74.65,293.21 L75.91,293.10 L77.16,292.99 L78.42,292.87 L79.68,292.75 L80.94,292.63 L82.19,292.51 L83.45,292.38 L84.71,292.25 L85.97,292.12 L87.23,291.98 L88.48,291.84 L89.74,291.70 L91.00,291.56 L92.26,291.42 L93.51,291.27 L94.77,291.12 L96.03,290.96 L97.29,290.81 L98.54,290.65 L99.80,290.49 L101.06,290.32 L102.32,290.16 L103.58,289.99 L104.83,289.82 L106.09,289.64 L107.35,289.46 L108.61,289.28 L109.86,289.10 L111.12,288.92 L112.38,288.73 L113.64,288.54 L114.90,288.34 L116.15,288.15 L117.41,287.95 L118.67,287.74 L119.93,287.54 L121.18,287.33 L122.44,287.12 L123.70,286.91 L124.96,286.69 L126.21,286.47 L127.47,286.25 L128.73,286.02 L129.99,285.79 L131.25,285.56 L132.50,285.32 L133.76,285.08 L135.02,284.84 L136.28,284.59 L137.53,284.34 L138.79,284.09 L140.05,283.83 L141.31,283.57 L142.56,283.30 L143.82,283.03 L145.08,282.76 L146.34,282.48 L147.60,282.20 L148.85,281.91 L150.11,281.62 L151.37,281.32 L152.63,281.02 L153.88,280.71 L155.14,280.40 L156.40,280.08 L157.66,279.76 L158.91,279.43 L160.17,279.10 L161.43,278.76 L162.69,278.41 L163.95,278.06 L165.20,277.70 L166.46,277.33 L167.72,276.96 L168.98,276.57 L170.23,276.19 L171.49,275.79 L172.75,275.38 L174.01,274.97 L175.26,274.55 L176.52,274.12 L177.78,273.68 L179.04,273.23 L180.30,272.77 L181.55,272.30 L182.81,271.82 L184.07,271.33 L185.33,270.82 L186.58,270.31 L187.84,269.79 L189.10,269.25 L190.36,268.70 L191.61,268.14 L192.87,267.57 L194.13,266.98 L195.39,266.38 L196.65,265.76 L197.90,265.14 L199.16,264.49 L200.42,263.84 L201.68,263.16 L202.93,262.48 L204.19,261.77 L205.45,261.05 L206.71,260.32 L207.96,259.57 L209.22,258.80 L210.48,258.01 L211.74,257.21 L212.74,256.55 L213.75,255.89 L214.76,255.21 L215.76,254.52 L216.77,253.82 L217.77,253.11 L218.78,252.39 L219.79,251.66 L220.79,250.91 L221.80,250.15 L222.81,249.38 L223.81,248.60 L224.82,247.81 L225.82,247.00 L226.83,246.19 L227.84,245.36 L228.84,244.52 L229.85,243.67 L230.85,242.80 L231.86,241.93 L232.87,241.04 L233.87,240.14 L234.88,239.23 L235.89,238.30 L236.89,237.37 L237.90,236.42 L238.90,235.47 L239.91,234.50 L240.92,233.52 L241.92,232.52 L242.93,231.52 L243.93,230.51 L244.94,229.48 L245.95,228.45 L246.95,227.40 L247.96,226.34 L248.97,225.27 L249.97,224.19 L250.98,223.10 L251.98,222.00 L252.99,220.89 L254.00,219.77 L255.00,218.64 L256.01,217.50 L257.01,216.35 L258.02,215.19 L259.03,214.02 L260.03,212.84 L261.04,211.65 L262.05,210.46 L263.05,209.25 L264.06,208.03 L265.06,206.81 L266.07,205.57 L267.08,204.33 L267.83,203.39 L268.59,202.45 L269.34,201.50 L270.09,200.54 L270.85,199.59 L271.60,198.62 L272.36,197.66 L273.11,196.68 L273.87,195.71 L274.62,194.73 L275.38,193.74 L276.13,192.75 L276.89,191.76 L277.64,190.76 L278.40,189.75 L279.15,188.75 L279.90,187.73 L280.66,186.72 L281.41,185.70 L282.17,184.67 L282.92,183.64 L283.68,182.61 L284.43,181.57 L285.19,180.53 L285.94,179.48 L286.70,178.43 L287.45,177.38 L288.21,176.32 L288.96,175.26 L289.71,174.19 L290.47,173.12 L291.22,172.05 L291.98,170.97 L292.73,169.89 L293.49,168.80 L294.24,167.71 L295.00,166.62 L295.75,165.52 L296.51,164.42 L297.26,163.32 L298.02,162.21 L298.77,161.10 L299.52,159.98 L300.28,158.86 L301.03,157.74 L301.79,156.61 L302.54,155.48 L303.30,154.35 L304.05,153.21 L304.81,152.07 L305.56,150.93 L306.32,149.78 L307.07,148.63 L307.83,147.47 L308.58,146.32 L309.33,145.15 L310.09,143.99 L310.84,142.82 L311.60,141.65 L312.35,140.47 L313.11,139.30 L313.86,138.11 L314.62,136.93 L315.37,135.74 L316.13,134.55 L316.88,133.35 L317.64,132.15 L318.39,130.95 L319.15,129.75 L319.90,128.54 L320.65,127.33 L321.41,126.11 L322.16,124.90 L322.92,123.67 L323.67,122.45 L324.43,121.22 L325.18,119.99 L325.94,118.76 L326.69,117.52 L327.45,116.28 L328.20,115.04 L328.96,113.79 L329.71,112.54 L330.46,111.29 L331.22,110.03 L331.97,108.77 L332.73,107.51 L333.48,106.25 L334.24,104.98 L334.99,103.71 L335.75,102.43 L336.50,101.15 L337.26,99.87 L338.01,98.59 L338.77,97.30 L339.52,96.01 L340.27,94.72 L341.03,93.42 L341.78,92.13 L342.54,90.82 L343.29,89.52 L344.05,88.21 L344.80,86.90 L345.56,85.59 L346.31,84.27 L347.07,82.95 L347.82,81.63 L348.58,80.30 L349.33,78.97 L350.08,77.64 L350.84,76.31 L351.59,74.97 L352.35,73.63 L353.10,72.28 L353.86,70.94 L354.61,69.59 L355.37,68.24 L356.12,66.88 L356.88,65.52 L357.63,64.16 L358.39,62.80 L359.14,61.43 L359.89,60.06 L360.65,58.69 L361.40,57.31 L362.16,55.93 L362.91,54.55 L363.67,53.17 L364.42,51.78 L365.18,50.39 L365.93,49.00 L366.69,47.60 L367.44,46.20 L368.20,44.80 L368.95,43.39 L369.70,41.99 L370.46,40.58 L371.21,39.16 L371.97,37.75 L372.72,36.33 L373.14,35.55" stroke="#ff8000" stroke-dasharray="10.4 4.25" stroke-dashoffset="8.681"/>
<path d="M158.95,415.70 L159.75,414.54 L160.47,413.52 L161.19,412.51 L161.91,411.51 L162.63,410.51 L163.35,409.52 L164.07,408.54 L164.78,407.56 L165.50,406.59 L166.22,405.63 L167.12,404.43 L167.37,404.10" stroke="#ff8000" stroke-dasharray="4.85 4.29" stroke-dashoffset="8.797"/>
<path d="M167.37,404.10 L168.20,403.01 L169.09,401.84 L169.99,400.67 L170.89,399.52 L171.79,398.37 L172.69,397.24 L173.58,396.11 L174.48,395.00 L175.38,393.89 L176.28,392.79 L177.18,391.70 L178.07,390.63 L178.97,389.56 L179.87,388.50 L180.77,387.44 L181.67,386.40 L182.56,385.37 L183.46,384.34 L184.36,383.33 L185.26,382.32 L186.16,381.33 L187.06,380.34 L187.95,379.36 L188.85,378.39 L189.75,377.43 L190.65,376.48 L191.55,375.54 L192.44,374.60 L193.34,373.68 L194.24,372.76 L195.14,371.86 L196.04,370.96 L196.93,370.07 L197.83,369.19 L198.73,368.32 L199.63,367.46 L200.53,366.61 L201.42,365.77 L202.32,364.94 L203.22,364.11 L204.12,363.30 L205.02,362.50 L206.09,361.54 L207.17,360.60 L208.25,359.68 L209.33,358.77 L210.40,357.87 L211.48,356.98 L212.56,356.11 L213.64,355.25 L214.71,354.41 L215.79,353.58 L216.87,352.76 L217.95,351.95 L219.02,351.16 L220.10,350.39 L221.18,349.62 L222.26,348.87 L223.34,348.14 L224.41,347.41 L225.49,346.70 L226.57,346.01 L227.65,345.32 L228.72,344.65 L229.80,343.99 L230.88,343.35 L231.96,342.71 L233.03,342.09 L234.11,341.49 L235.19,340.89 L236.27,340.31 L237.34,339.73 L238.42,339.17 L239.50,338.63 L240.58,338.09 L241.83,337.48 L243.09,336.88 L244.35,336.30 L245.61,335.73 L246.20,335.47" stroke="#ff8000" stroke-dasharray="4.85 4.29" stroke-dashoffset="0.3"/>
<path d="M246.20,335.47 L247.40,334.95 L248.66,334.42 L249.92,333.90 L251.17,333.39 L252.43,332.90 L253.69,332.42 L254.95,331.95 L256.20,331.50 L257.46,331.05 L258.72,330.62 L259.98,330.20 L261.23,329.79 L262.49,329.40 L263.75,329.01 L265.00,328.63 L266.26,328.26 L267.52,327.91 L268.78,327.56 L270.03,327.22 L271.29,326.89 L272.55,326.57 L273.80,326.26 L275.06,325.95 L276.32,325.66 L277.58,325.37 L278.83,325.09 L280.09,324.81 L281.35,324.55 L282.61,324.29 L283.86,324.04 L285.12,323.79 L286.38,323.55 L287.63,323.32 L288.89,323.09 L290.15,322.87 L291.41,322.65 L292.66,322.44 L293.92,322.24 L295.18,322.04 L296.44,321.84 L297.69,321.65 L298.95,321.47 L300.21,321.28 L301.46,321.11 L302.72,320.94 L303.98,320.77 L305.24,320.61 L306.49,320.45 L307.75,320.29 L309.01,320.14 L310.26,319.99 L311.52,319.85 L312.78,319.70 L314.04,319.57 L315.29,319.43 L316.55,319.30 L317.81,319.17 L319.07,319.05 L320.32,318.93 L321.58,318.81 L322.84,318.69 L324.09,318.58 L325.35,318.46 L326.61,318.36 L327.87,318.25 L329.12,318.15 L330.38,318.04 L331.64,317.94 L332.90,317.85 L334.15,317.75 L335.41,317.66 L336.67,317.57 L337.92,317.48 L339.18,317.39 L340.44,317.31 L341.70,317.23 L342.95,317.14 L344.21,317.06 L345.47,316.99 L346.73,316.91 L347.98,316.84 L349.24,316.76 L350.50,316.69 L351.75,316.62 L353.01,316.55 L354.27,316.49 L355.53,316.42 L356.78,316.36 L358.04,316.29 L359.30,316.23 L360.55,316.17 L361.81,316.11 L363.07,316.05 L364.33,316.00 L365.58,315.94 L366.84,315.89 L368.10,315.83 L369.36,315.78 L370.61,315.73 L371.87,315.68 L373.13,315.63 L374.38,315.58 L375.64,315.53 L376.90,315.49 L378.16,315.44 L379.41,315.39 L380.67,315.35 L381.93,315.31 L383.19,315.26 L384.44,315.22 L385.70,315.18 L386.96,315.14 L388.21,315.10 L389.47,315.06 L390.73,315.03 L391.99,314.99 L393.24,314.95 L394.50,314.92 L395.76,314.88 L397.01,314.85 L398.27,314.81 L399.53,314.78 L400.79,314.75 L402.04,314.72 L403.30,314.68 L404.56,314.65 L405.82,314.62 L407.07,314.59 L408.33,314.56 L409.59,314.53 L410.84,314.51 L412.10,314.48 L413.36,314.45 L414.62,314.42 L415.87,314.40 L417.13,314.37 L418.39,314.35 L419.65,314.32 L420.90,314.30 L422.16,314.27 L423.42,314.25 L424.67,314.22 L425.93,314.20 L427.19,314.18 L428.45,314.16 L429.70,314.13 L430.96,314.11 L432.22,314.09 L433.47,314.07 L434.73,314.05 L435.99,314.03 L437.25,314.01 L438.50,313.99 L439.76,313.97 L441.02,313.95 L442.28,313.93 L443.53,313.91 L444.79,313.90 L446.05,313.88 L447.30,313.86 L448.56,313.84 L449.82,313.83 L451.08,313.81 L452.33,313.79 L453.59,313.78 L454.85,313.76 L456.11,313.74 L457.36,313.73 L458.62,313.71 L459.88,313.70 L461.13,313.68 L462.39,313.67 L463.65,313.66 L464.91,313.64 L466.16,313.63 L467.42,313.61 L468.68,313.60 L469.94,313.59 L471.19,313.57 L472.45,313.56 L473.71,313.55 L474.96,313.54 L476.22,313.52 L477.48,313.51 L478.74,313.50 L479.99,313.49 L481.25,313.48 L482.51,313.46 L483.76,313.45 L485.02,313.44 L486.28,313.43 L487.54,313.42 L488.79,313.41 L490.05,313.40 L491.31,313.39 L492.57,313.38 L493.82,313.37 L495.08,313.36 L496.34,313.35 L497.59,313.34 L498.85,313.33 L500.11,313.32 L501.37,313.31 L502.62,313.30 L503.88,313.29 L505.14,313.28 L506.40,313.27 L507.65,313.27 L508.91,313.26 L510.17,313.25 L511.42,313.24 L512.68,313.23 L513.94,313.22 L515.20,313.22 L516.45,313.21 L517.71,313.20 L518.97,313.19 L520.22,313.19 L521.48,313.18 L522.74,313.17 L524.00,313.16 L525.25,313.16 L526.51,313.15 L527.77,313.14 L529.03,313.13 L530.28,313.13 L531.54,313.12 L532.80,313.11 L534.05,313.11 L535.31,313.10 L536.57,313.10 L537.83,313.09 L539.08,313.08 L540.34,313.08 L541.60,313.07 L542.86,313.06 L544.11,313.06 L545.37,313.05 L546.63,313.05 L547.88,313.04 L549.14,313.04 L550.40,313.03 L551.66,313.02 L552.91,313.02 L554.17,313.01 L555.43,313.01 L556.68,313.00 L557.94,313.00 L559.20,312.99 L560.46,312.99 L561.71,312.98 L562.97,312.98 L564.23,312.97 L565.49,312.97 L566.74,312.96 L568.00,312.96 L569.26,312.95 L570.51,312.95 L571.77,312.94 L573.03,312.94 L574.29,312.94 L575.54,312.93 L576.80,312.93 L578.06,312.92 L579.32,312.92 L580.57,312.91 L581.83,312.91 L583.09,312.91 L584.34,312.90 L585.60,312.90 L586.86,312.89 L588.12,312.89 L589.37,312.89 L590.63,312.88 L591.89,312.88 L593.14,312.88 L594.40,312.87 L595.66,312.87 L596.92,312.86 L598.17,312.86 L599.43,312.86 L600.69,312.85 L601.95,312.85 L603.20,312.85 L604.46,312.84 L605.72,312.84 L606.97,312.84 L608.23,312.83 L609.49,312.83 L610.75,312.83 L612.00,312.82 L613.26,312.82 L614.52,312.82 L615.78,312.82 L617.03,312.81 L618.29,312.81 L619.55,312.81 L620.80,312.80 L622.06,312.80 L622.60,312.80" stroke="#ff8000" stroke-dasharray="4.85 4.29" stroke-dashoffset="8.324"/>
<path d="M546.9,287.39 H552.0 M552.9,287.39 H572.4" stroke="#ff0000"/>
</g>
<line x1="12" y1="286.9" x2="633.1" y2="286.9" stroke="#717171" stroke-width="1.65" style="mix-blend-mode:multiply"/>
<line x1="24.3" y1="30.6" x2="24.3" y2="415.2" stroke="#111" stroke-width="1.35"/>
<path d="M44.19,287.20V282.40M64.07,287.20V282.40M83.96,287.20V282.40M103.85,287.20V282.40M123.73,287.20V279.50M143.62,287.20V282.40M163.51,287.20V282.40M183.40,287.20V282.40M203.28,287.20V282.40M223.17,287.20V279.50M243.06,287.20V282.40M262.94,287.20V282.40M282.83,287.20V282.40M302.72,287.20V282.40M322.61,287.20V279.50M342.49,287.20V282.40M362.38,287.20V282.40M382.27,287.20V282.40M402.15,287.20V282.40M422.04,287.20V279.50M441.93,287.20V282.40M461.81,287.20V282.40M481.70,287.20V282.40M501.59,287.20V282.40M521.48,287.20V279.50M541.36,287.20V282.40M561.25,287.20V282.40M581.14,287.20V282.40M601.02,287.20V282.40M620.91,287.20V279.50M24.30,414.75H29.00M24.30,401.96H29.00M24.30,389.18H31.90M24.30,376.39H29.00M24.30,363.61H29.00M24.30,350.82H29.00M24.30,338.04H31.90M24.30,325.25H29.00M24.30,312.47H29.00M24.30,299.69H29.00M24.30,274.11H29.00M24.30,261.33H29.00M24.30,248.54H29.00M24.30,235.76H31.90M24.30,222.97H29.00M24.30,210.19H29.00M24.30,197.40H29.00M24.30,184.62H31.90M24.30,171.83H29.00M24.30,159.05H29.00M24.30,146.26H29.00M24.30,133.48H31.90M24.30,120.69H29.00M24.30,107.91H29.00M24.30,95.12H29.00M24.30,82.34H31.90M24.30,69.55H29.00M24.30,56.77H29.00M24.30,43.98H29.00M24.30,31.20H31.90" stroke="#000" stroke-width="1" fill="none"/>
<text class="t" x="123.73" y="304.9" text-anchor="middle">0.5</text>
<text class="t" x="223.17" y="304.9" text-anchor="middle">1.0</text>
<text class="t" x="322.61" y="304.9" text-anchor="middle">1.5</text>
<text class="t" x="422.04" y="304.9" text-anchor="middle">2.0</text>
<text class="t" x="521.48" y="304.9" text-anchor="middle">2.5</text>
<text class="t" x="620.91" y="304.9" text-anchor="middle">3.0</text>
<text class="t" x="18.8" y="36.35" text-anchor="end">10</text>
<text class="t" x="18.8" y="87.49" text-anchor="end">8</text>
<text class="t" x="18.8" y="138.63" text-anchor="end">6</text>
<text class="t" x="18.8" y="189.77" text-anchor="end">4</text>
<text class="t" x="18.8" y="240.91" text-anchor="end">2</text>
<text class="t" x="18.8" y="343.19" text-anchor="end">−2</text>
<text class="t" x="18.8" y="394.33" text-anchor="end">−4</text>
<text class="t" x="23.9" y="17.3" text-anchor="middle">V</text>
<text class="t" x="647.3" y="291.7">a</text>
<line x1="685.7" y1="50.77" x2="759.2" y2="50.77" stroke="#0000ff" stroke-width="3.0"/>
<text class="l" y="57.17"><tspan class="i" x="772">V</tspan><tspan class="s" x="786.9" dy="3.9">1</tspan><tspan x="803.6" dy="-3.9">(k = 1)</tspan></text>
<line x1="685.7" y1="90.01" x2="755.0" y2="90.01" stroke="#0000ff" stroke-width="3.0" stroke-dasharray="10.5 4.15"/>
<text class="l" y="96.41"><tspan class="i" x="772">V</tspan><tspan class="s" x="786.9" dy="3.9">2</tspan><tspan x="803.6" dy="-3.9">(k = 1)</tspan></text>
<line x1="685.7" y1="129.25" x2="755.0" y2="129.25" stroke="#0000ff" stroke-width="3.0" stroke-dasharray="4.75 4.38"/>
<text class="l" y="135.65"><tspan class="i" x="772">V</tspan><tspan class="s" x="786.9" dy="3.9">3</tspan><tspan x="803.6" dy="-3.9">(k = 1)</tspan></text>
<line x1="685.7" y1="168.49" x2="759.2" y2="168.49" stroke="#ff0000" stroke-width="3.0"/>
<text class="l" y="174.89"><tspan class="i" x="772">V</tspan><tspan class="s" x="786.9" dy="3.9">1</tspan><tspan x="803.6" dy="-3.9">(k = 0)</tspan></text>
<line x1="685.7" y1="207.73" x2="755.0" y2="207.73" stroke="#ff0000" stroke-width="3.0" stroke-dasharray="10.5 4.15"/>
<text class="l" y="214.13"><tspan class="i" x="772">V</tspan><tspan class="s" x="786.9" dy="3.9">2</tspan><tspan x="803.6" dy="-3.9">(k = 0)</tspan></text>
<line x1="685.7" y1="246.97" x2="755.0" y2="246.97" stroke="#ff0000" stroke-width="3.0" stroke-dasharray="4.75 4.38"/>
<text class="l" y="253.37"><tspan class="i" x="772">V</tspan><tspan class="s" x="786.9" dy="3.9">3</tspan><tspan x="803.6" dy="-3.9">(k = 0)</tspan></text>
<line x1="685.7" y1="286.21" x2="759.2" y2="286.21" stroke="#ff8000" stroke-width="3.0"/>
<text class="l" y="292.61"><tspan class="i" x="772">V</tspan><tspan class="s" x="786.9" dy="3.9">1</tspan><tspan x="803.6" dy="-3.9">(k = −1)</tspan></text>
<line x1="685.7" y1="325.45" x2="755.0" y2="325.45" stroke="#ff8000" stroke-width="3.0" stroke-dasharray="10.5 4.15"/>
<text class="l" y="331.85"><tspan class="i" x="772">V</tspan><tspan class="s" x="786.9" dy="3.9">2</tspan><tspan x="803.6" dy="-3.9">(k = −1)</tspan></text>
<line x1="685.7" y1="364.69" x2="755.0" y2="364.69" stroke="#ff8000" stroke-width="3.0" stroke-dasharray="4.75 4.38"/>
<text class="l" y="371.09"><tspan class="i" x="772">V</tspan><tspan class="s" x="786.9" dy="3.9">3</tspan><tspan x="803.6" dy="-3.9">(k = −1)</tspan></text>
</svg>
</body></html>
